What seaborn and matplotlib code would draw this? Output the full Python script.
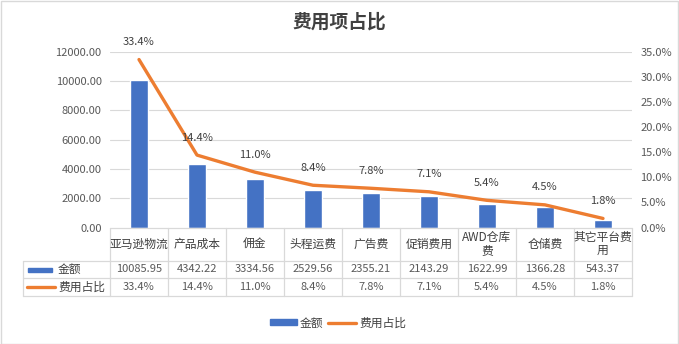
import numpy as np
import matplotlib
matplotlib.use("Agg")
import matplotlib.pyplot as plt
from matplotlib.transforms import blended_transform_factory
from matplotlib.lines import Line2D
from matplotlib.patches import Rectangle
import seaborn as sns

# Expense items, amounts and their share of total cost
categories = ["亚马逊物流", "产品成本", "佣金", "头程运费", "广告费",
              "促销费用", "AWD仓库费", "仓储费", "其它平台费用"]
table_labels = ["亚马逊物流", "产品成本", "佣金", "头程运费", "广告费",
                "促销费用", "AWD仓库\n费", "仓储费", "其它平台费\n用"]
amounts = [10085.95, 4342.22, 3334.56, 2529.56, 2355.21,
           2143.29, 1622.99, 1366.28, 543.37]
shares = [33.4, 14.4, 11.0, 8.4, 7.8, 7.1, 5.4, 4.5, 1.8]

amount_ticks = [0, 2000, 4000, 6000, 8000, 10000, 12000]
share_ticks = [0, 5, 10, 15, 20, 25, 30, 35]

BLUE = "#4472C4"
ORANGE = "#ED7D31"
TXT = "#595959"
GRID = "#D9D9D9"

sns.set_style("white")
plt.rcParams["font.family"] = ["Noto Sans CJK SC", "DejaVu Sans"]

W, H = 679, 344
fig = plt.figure(figsize=(W / 100, H / 100), dpi=100)


def fx(px):
    return px / W


def fy(py):
    return 1 - py / H


left_px, right_px, top_px, bottom_px = 110, 632, 51.5, 227.5
ax = fig.add_axes([fx(left_px), fy(bottom_px), fx(right_px - left_px),
                   (bottom_px - top_px) / H])

x = np.arange(len(categories))
sns.barplot(x=x, y=amounts, ax=ax, color=BLUE, saturation=1, width=0.3,
            native_scale=True)
ax.set_xlim(-0.5, len(categories) - 0.5)
ax.set_ylim(0, 12000)
ax.set_yticks(amount_ticks)
ax.set_yticklabels([f"{v:.2f}" for v in amount_ticks], color=TXT, fontsize=8)
ax.set_xticks([])
ax.tick_params(axis="y", length=0, pad=6)
for s in ax.spines.values():
    s.set_visible(False)
for t in amount_ticks[1:]:
    ax.axhline(t, color=GRID, lw=0.8, zorder=0)
ax.set_xlabel("")
ax.set_ylabel("")

ax2 = ax.twinx()
sns.lineplot(x=x, y=shares, ax=ax2, color=ORANGE, lw=2.4, legend=False)
ax2.set_ylim(0, 35)
ax2.set_yticks(share_ticks)
ax2.set_yticklabels([f"{v:.1f}%" for v in share_ticks], color=TXT, fontsize=8)
ax2.tick_params(axis="y", length=0, pad=6)
for s in ax2.spines.values():
    s.set_visible(False)
ax2.set_ylabel("")
for xi, v in zip(x, shares):
    ax2.annotate(f"{v:.1f}%", (xi, v), xytext=(0, 9), textcoords="offset points",
                 ha="center", va="bottom", fontsize=8, color="#404040")

# Data table under the plot
tr = blended_transform_factory(ax.transData, fig.transFigure)
rows_y = [227.5, 261, 278, 296]
tbl_left = 23
line_kw = dict(color=GRID, lw=0.9, clip_on=False)
# horizontal rules
fig.add_artist(Line2D([fx(left_px), fx(right_px)], [fy(rows_y[0])] * 2, **line_kw))
for yy in rows_y[1:]:
    fig.add_artist(Line2D([fx(tbl_left), fx(right_px)], [fy(yy)] * 2, **line_kw))
# vertical rules
fig.add_artist(Line2D([fx(tbl_left)] * 2, [fy(rows_y[1]), fy(rows_y[3])], **line_kw))
for i in range(len(categories) + 1):
    xp = left_px + i * (right_px - left_px) / len(categories)
    fig.add_artist(Line2D([fx(xp)] * 2, [fy(rows_y[0]), fy(rows_y[3])], **line_kw))

cat_mid = (rows_y[0] + rows_y[1]) / 2
amt_mid = (rows_y[1] + rows_y[2]) / 2
shr_mid = (rows_y[2] + rows_y[3]) / 2
for xi, lab, a, s in zip(x, table_labels, amounts, shares):
    fig.text(xi, fy(cat_mid), lab, transform=tr, ha="center", va="center",
             fontsize=8.5, color="#404040", linespacing=1.0)
    fig.text(xi, fy(amt_mid), f"{a:.2f}", transform=tr, ha="center",
             va="center", fontsize=8, color=TXT)
    fig.text(xi, fy(shr_mid), f"{s:.1f}%", transform=tr, ha="center",
             va="center", fontsize=8, color=TXT)

# series keys in the table
fig.add_artist(Rectangle((fx(28), fy(272)), fx(24), 4 / H, color=BLUE))
fig.text(fx(58), fy(amt_mid), "金额", ha="left", va="center", fontsize=8.5,
         color="#404040")
fig.add_artist(Line2D([fx(27), fx(55)], [fy(287)] * 2, color=ORANGE, lw=2.4))
fig.text(fx(58), fy(shr_mid), "费用占比", ha="left", va="center", fontsize=8.5,
         color="#404040")

# bottom legend
fig.add_artist(Rectangle((fx(270), fy(325)), fx(27), 6 / H, color=BLUE))
fig.text(fx(300), fy(323), "金额", ha="left", va="center", fontsize=8.5,
         color="#404040")
fig.add_artist(Line2D([fx(328), fx(356)], [fy(323)] * 2, color=ORANGE, lw=2.4))
fig.text(fx(359), fy(323), "费用占比", ha="left", va="center", fontsize=8.5,
         color="#404040")

fig.text(0.5, fy(22), "费用项占比", ha="center", va="center", fontsize=13.5,
         color="#404040", fontweight="bold")

# chart border
fig.add_artist(Rectangle((0.5 / W, 0.5 / H), 1 - 1.5 / W, 1 - 1.5 / H,
                         fill=False, edgecolor=GRID, lw=1))

fig.savefig("out.png", dpi=100)
